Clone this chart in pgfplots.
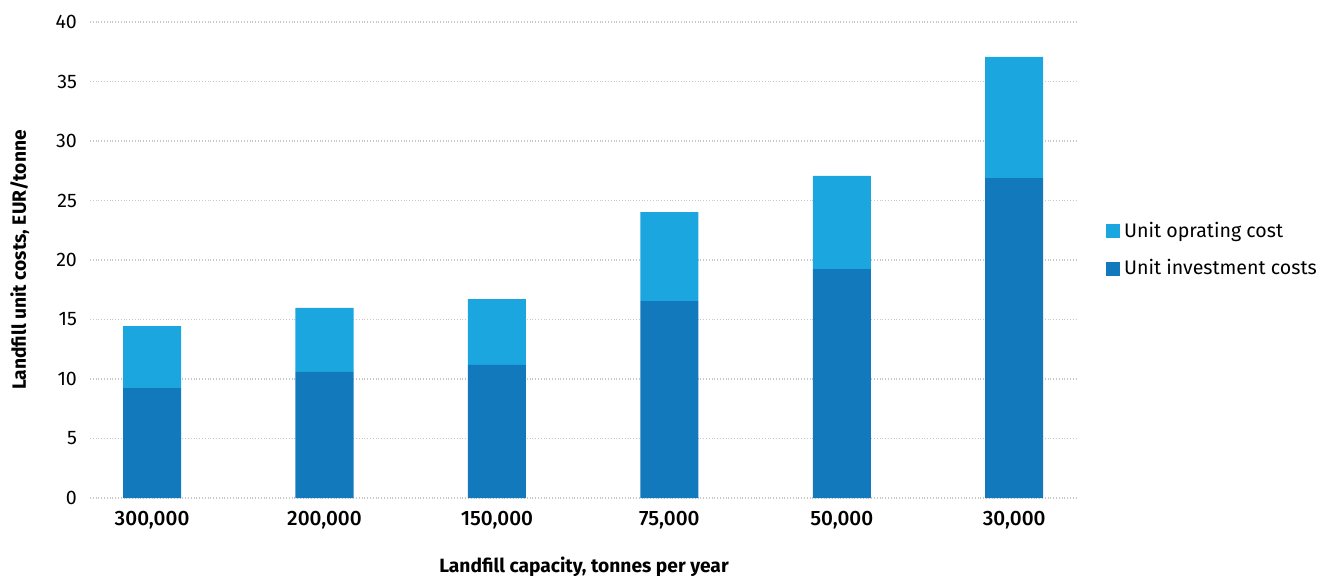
\documentclass[border=0pt]{standalone}
\usepackage{fontspec}
\setmainfont{Fira Sans}[FontFace={mb}{n}{Font=* Medium}]
\usepackage{pgfplots}
\pgfplotsset{compat=1.18}
\definecolor{lightb}{RGB}{28,166,223}
\definecolor{darkb}{RGB}{17,121,188}
\definecolor{gridc}{RGB}{200,200,200}
\begin{document}
\begin{tikzpicture}
\begin{axis}[
  at={(45pt,38.5pt)}, anchor=south west,
  scale only axis, width=494pt, height=238pt,
  ybar stacked, bar width=29pt,
  xmin=-0.36, xmax=5.37, ymin=0, ymax=40,
  ytick={0,5,...,40},
  xtick=data,
  xticklabels={{300,000},{200,000},{150,000},{75,000},{50,000},{30,000}},
  xticklabel style={font=\fontsize{10.4}{12}\selectfont\fontseries{mb}\selectfont, yshift=-3pt},
  yticklabel style={font=\fontsize{9.8}{11}\selectfont, xshift=-3pt},
  /pgf/number format/assume math mode=true,
  axis line style={draw=none},
  major tick length=0pt,
  ymajorgrids, grid style={gridc, densely dotted, line width=0.6pt},
  xlabel={\bfseries Landfill capacity, tonnes per year},
  ylabel={\bfseries Landfill unit costs, EUR/tonne},
  xlabel style={font=\fontsize{9.6}{11}\selectfont, at={(0.5,-0.145)}, anchor=center},
  ylabel style={font=\fontsize{9.6}{11}\selectfont, at={(-0.071,0.5)}, anchor=center},
  reverse legend,
  legend style={draw=none, fill=none, at={(1.028,0.521)}, anchor=west, font=\fontsize{9.8}{11}\selectfont, inner sep=0pt, row sep=5.5pt},
  legend cell align=left,
  legend image code/.code={\fill[#1, draw=none] (0pt,-3.5pt) rectangle (7pt,3.5pt);},
]
\addplot[fill=darkb, draw=none] coordinates {(0,9.24) (1,10.59) (2,11.18) (3,16.55) (4,19.24) (5,26.89)};
\addplot[fill=lightb, draw=none] coordinates {(0,5.21) (1,5.38) (2,5.54) (3,7.48) (4,7.82) (5,10.17)};
\legend{Unit investment costs, Unit oprating cost}
\end{axis}
\pgfresetboundingbox
\path[use as bounding box] (0,0) rectangle (658.5pt,287.5pt);
\end{tikzpicture}
\end{document}
